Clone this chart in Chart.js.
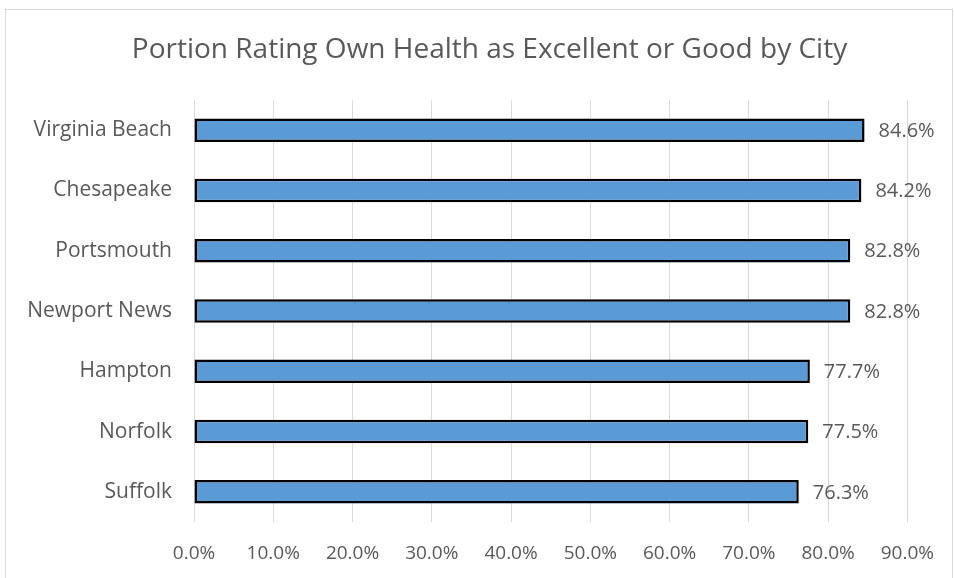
<!DOCTYPE html>
<html>
<head>
<meta charset="utf-8">
<script src="https://cdn.jsdelivr.net/npm/chart.js@4.4.1/dist/chart.umd.min.js"></script>
<style>
  html, body { margin: 0; padding: 0; background: #fff; }
  #wrap { position: relative; width: 954px; height: 578px; }
</style>
</head>
<body>
<div id="wrap"><canvas id="chart" width="954" height="578"></canvas></div>
<script>
const cities = ['Virginia Beach', 'Chesapeake', 'Portsmouth', 'Newport News', 'Hampton', 'Norfolk', 'Suffolk'];
const portionGood = [0.846, 0.842, 0.828, 0.828, 0.777, 0.775, 0.763];
const xTicks = [0, 0.1, 0.2, 0.3, 0.4, 0.5, 0.6, 0.7, 0.8, 0.9];
const chartTitle = 'Portion Rating Own Health as Excellent or Good by City';

const fontFamily = '"Open Sans", Lato, sans-serif';
const textColor = '#595959';

// white background, light frame and the title (title sits off-centre like the original)
const frame = {
  id: 'frame',
  beforeDraw(chart) {
    const ctx = chart.ctx;
    ctx.save();
    ctx.fillStyle = '#fff';
    ctx.fillRect(0, 0, chart.width, chart.height);
    ctx.strokeStyle = '#d9d9d9';
    ctx.lineWidth = 1;
    ctx.strokeRect(5.5, 9.5, 947, 600);
    ctx.font = '28px ' + fontFamily;
    ctx.fillStyle = textColor;
    ctx.textAlign = 'center';
    ctx.textBaseline = 'middle';
    ctx.fillText(chartTitle, 489.5, 50);
    ctx.restore();
  }
};

const valueLabels = {
  id: 'valueLabels',
  afterDatasetsDraw(chart) {
    const ctx = chart.ctx;
    const meta = chart.getDatasetMeta(0);
    ctx.save();
    ctx.font = '20px ' + fontFamily;
    ctx.fillStyle = textColor;
    ctx.textAlign = 'left';
    ctx.textBaseline = 'middle';
    meta.data.forEach((bar, i) => {
      const v = chart.data.datasets[0].data[i];
      ctx.fillText((v * 100).toFixed(1) + '%', bar.x + 14, bar.y + 1);
    });
    ctx.restore();
  }
};

const ctx = document.getElementById('chart').getContext('2d');
const chart = new Chart(ctx, {
  type: 'bar',
  data: {
    labels: cities,
    datasets: [{
      data: portionGood,
      backgroundColor: '#5B9BD5',
      borderColor: '#000000',
      borderWidth: 2.5,
      borderSkipped: false,
      barPercentage: 0.39,
      categoryPercentage: 1
    }]
  },
  options: {
    indexAxis: 'y',
    responsive: false,
    animation: false,
    layout: { padding: { left: 0, right: 40, top: 100, bottom: 0 } },
    plugins: {
      legend: { display: false },
      tooltip: { enabled: false },
      title: { display: false }
    },
    scales: {
      x: {
        min: 0,
        max: 0.9,
        afterBuildTicks(scale) {
          scale.ticks = xTicks.map(v => ({ value: v }));
        },
        afterFit(scale) { scale.height = 56; },
        grid: { color: '#d9d9d9', drawTicks: false },
        border: { display: false },
        ticks: {
          color: textColor,
          font: { family: fontFamily, size: 19 },
          padding: 20,
          maxRotation: 0,
          callback: v => (v * 100).toFixed(1) + '%'
        }
      },
      y: {
        afterFit(scale) { scale.width = 194; },
        grid: { display: false },
        border: { display: false },
        ticks: {
          color: textColor,
          font: { family: fontFamily, size: 21 },
          padding: 14
        }
      }
    }
  },
  plugins: [frame, valueLabels]
});
</script>
</body>
</html>
